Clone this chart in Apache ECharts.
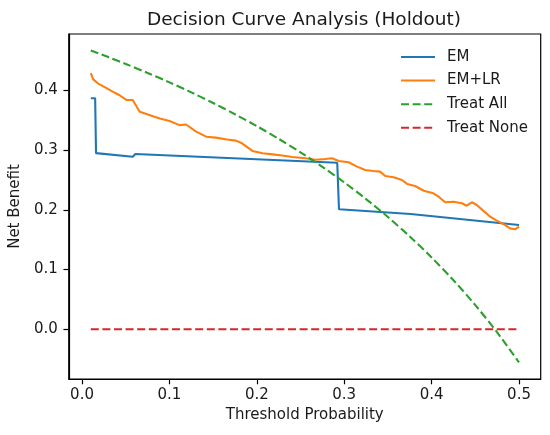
<!DOCTYPE html>
<html>
<head>
<meta charset="utf-8">
<script src="https://cdn.jsdelivr.net/npm/echarts@6/dist/echarts.min.js"></script>
<style>
  html, body { margin: 0; padding: 0; background: #fff; }
  #chart { width: 550px; height: 435px; }
</style>
</head>
<body>
<div id="chart"></div>
<script>
// ---- data ----
const xTicks = [0.0, 0.1, 0.2, 0.3, 0.4, 0.5];
const yTicks = [0.0, 0.1, 0.2, 0.3, 0.4];

const emThreshold = [0.01, 0.015, 0.016, 0.058, 0.061, 0.292, 0.294, 0.376, 0.5];
const emBenefit   = [0.387, 0.387, 0.295, 0.289, 0.2935, 0.279, 0.201, 0.193, 0.1747];

const emlrThreshold = [0.01, 0.0126, 0.018, 0.028, 0.035, 0.043, 0.051, 0.058, 0.066, 0.077,
  0.089, 0.100, 0.1115, 0.119, 0.1305, 0.142, 0.153, 0.166, 0.176, 0.183,
  0.195, 0.2066, 0.218, 0.229, 0.2405, 0.2557, 0.267, 0.2785, 0.286, 0.2937,
  0.305, 0.3147, 0.324, 0.3337, 0.341, 0.347, 0.3565, 0.366, 0.372, 0.381,
  0.391, 0.402, 0.408, 0.4155, 0.425, 0.4346, 0.440, 0.446, 0.4517, 0.459,
  0.467, 0.4745, 0.482, 0.4897, 0.4954, 0.5];
const emlrBenefit = [0.429, 0.419, 0.412, 0.404, 0.398, 0.392, 0.384, 0.384, 0.3645, 0.359,
  0.353, 0.349, 0.342, 0.343, 0.331, 0.3226, 0.321, 0.318, 0.316, 0.3115,
  0.2987, 0.2948, 0.293, 0.291, 0.2886, 0.2864, 0.284, 0.2853, 0.2864, 0.282,
  0.2797, 0.2724, 0.2668, 0.265, 0.264, 0.2568, 0.2546, 0.250, 0.2434, 0.240,
  0.232, 0.2278, 0.222, 0.2127, 0.2137, 0.211, 0.207, 0.2127, 0.2082, 0.1987,
  0.1886, 0.182, 0.1764, 0.169, 0.1675, 0.172];

const allThreshold = [0.01, 0.03, 0.05, 0.075, 0.1, 0.125, 0.15, 0.175, 0.2, 0.225, 0.25,
  0.275, 0.3, 0.325, 0.35, 0.375, 0.4, 0.425, 0.45, 0.475, 0.5];
const allBenefit = [0.4669, 0.4559, 0.4444, 0.4294, 0.4136, 0.3968, 0.3791, 0.3602, 0.3403, 0.3190, 0.2963,
  0.2720, 0.2460, 0.2181, 0.1880, 0.1555, 0.1203, 0.0821, 0.0404, -0.0053, -0.0556];

const noneThreshold = [0.01, 0.5];
const noneBenefit = [0.0, 0.0];

const seriesNames = ['EM', 'EM+LR', 'Treat All', 'Treat None'];
// --------------------------------------

function pairs(xs, ys) { return xs.map((x, i) => [x, ys[i]]); }

const FONT = 'DejaVu Sans';
const TXT = '#1a1a1a';

const chart = echarts.init(document.getElementById('chart'), null, { renderer: 'canvas' });
const lineW = 2.1;
const dash = [8, 3.6];

chart.setOption({
  animation: false,
  backgroundColor: '#ffffff',
  title: {
    text: 'Decision Curve Analysis (Holdout)',
    left: 299,
    textAlign: 'center',
    top: 6,
    textStyle: { fontFamily: FONT, fontSize: 18.5, fontWeight: 'normal', color: TXT }
  },
  legend: {
    orient: 'vertical',
    left: 395,
    top: 44.5,
    itemWidth: 34,
    itemHeight: 15,
    itemGap: 8.6,
    data: seriesNames,
    itemStyle: { opacity: 0 },
    textStyle: { fontFamily: FONT, fontSize: 15, color: TXT, padding: [0, 0, 0, 7] }
  },
  grid: {
    left: 67.7, right: 9.3, top: 34, bottom: 56,
    show: true, borderColor: '#000', borderWidth: 1.2, backgroundColor: 'transparent',
    containLabel: false
  },
  xAxis: {
    type: 'value',
    min: -0.0152, max: 0.5248,
    name: 'Threshold Probability',
    nameLocation: 'middle',
    nameGap: 29,
    nameTextStyle: { fontFamily: FONT, fontSize: 15, color: TXT },
    splitLine: { show: false },
    axisLine: { show: true, onZero: false, lineStyle: { color: '#000', width: 1.2 } },
    axisTick: { show: true, inside: false, length: 5.3, lineStyle: { color: '#000', width: 1.2 }, customValues: xTicks },
    axisLabel: { fontFamily: FONT, fontSize: 15, color: TXT, margin: 9, customValues: xTicks,
      formatter: v => v.toFixed(1) }
  },
  yAxis: {
    type: 'value',
    min: -0.0833, max: 0.4946,
    name: 'Net Benefit',
    nameLocation: 'middle',
    nameGap: 40,
    nameRotate: 90,
    nameTextStyle: { fontFamily: FONT, fontSize: 15, color: TXT },
    splitLine: { show: false },
    axisLine: { show: true, onZero: false, lineStyle: { color: '#000', width: 1.2 } },
    axisTick: { show: true, inside: false, length: 5.3, lineStyle: { color: '#000', width: 1.2 }, customValues: yTicks },
    axisLabel: { fontFamily: FONT, fontSize: 15, color: TXT, margin: 11, customValues: yTicks,
      formatter: v => v.toFixed(1) }
  },
  series: [
    { name: seriesNames[0], type: 'line', data: pairs(emThreshold, emBenefit), symbol: 'none',
      color: '#1f77b4', lineStyle: { color: '#1f77b4', width: lineW }, z: 3 },
    { name: seriesNames[1], type: 'line', data: pairs(emlrThreshold, emlrBenefit), symbol: 'none',
      color: '#ff7f0e', lineStyle: { color: '#ff7f0e', width: lineW }, z: 4 },
    { name: seriesNames[2], type: 'line', data: pairs(allThreshold, allBenefit), symbol: 'none', smooth: 0.3,
      color: '#2ca02c', lineStyle: { color: '#2ca02c', width: lineW, type: dash }, z: 5 },
    { name: seriesNames[3], type: 'line', data: pairs(noneThreshold, noneBenefit), symbol: 'none',
      color: '#d62728', lineStyle: { color: '#d62728', width: lineW, type: dash }, z: 6 }
  ]
});
</script>
</body>
</html>
